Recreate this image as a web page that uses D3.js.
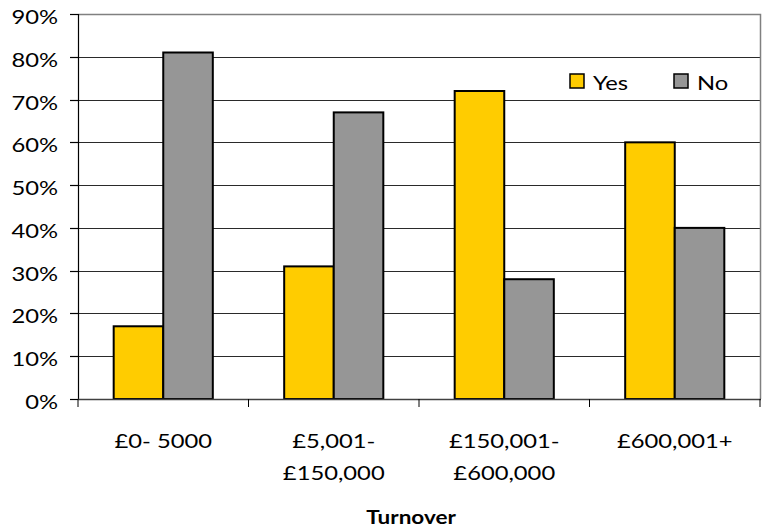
<!DOCTYPE html>
<html>
<head>
<meta charset="utf-8">
<script src="https://cdn.jsdelivr.net/npm/d3@7"></script>
<style>
  body { margin: 0; background: #fff; }
  text { font-family: Lato, "Open Sans", sans-serif; fill: #000; }
</style>
</head>
<body>
<div id="chart"></div>
<script>
var categories = [['£0- 5000'], ['£5,001-', '£150,000'], ['£150,001-', '£600,000'], ['£600,001+']];
var seriesNames = ['Yes', 'No'];
var yesValues = [0.17, 0.31, 0.72, 0.60];
var noValues = [0.81, 0.67, 0.28, 0.40];
var yTicks = [0, 0.1, 0.2, 0.3, 0.4, 0.5, 0.6, 0.7, 0.8, 0.9];
var colors = { Yes: '#FFCC00', No: '#969696' };

var W = 762, H = 530;
var plotLeft = 78, plotRight = 760, plotTop = 14, plotBottom = 399;
var sx = 1.25; // picture is stretched horizontally

var svg = d3.select('#chart').append('svg').attr('width', W).attr('height', H);

var xScale = d3.scaleBand().domain(d3.range(categories.length)).range([plotLeft, plotRight]);
var inner = d3.scaleBand().domain(seriesNames).range([0, xScale.bandwidth()]).paddingOuter(0.72);
var yScale = d3.scaleLinear().domain([0, 0.9]).range([plotBottom, plotTop]);

// gridlines
svg.append('g').selectAll('line').data(yTicks.slice(1, -1)).enter().append('line')
  .attr('x1', plotLeft).attr('x2', plotRight)
  .attr('y1', function (d) { return Math.round(yScale(d)) + 0.5; })
  .attr('y2', function (d) { return Math.round(yScale(d)) + 0.5; })
  .style('stroke', '#2a2a2a').style('stroke-width', 1.2);

// top and right border
svg.append('path')
  .attr('d', 'M' + plotLeft + ',' + (plotTop + 0.5) + 'H' + (plotRight + 0.5) + 'V' + plotBottom)
  .style('fill', 'none').style('stroke', '#808080').style('stroke-width', 1.5);

// bars
var data = [];
categories.forEach(function (c, i) {
  data.push({ i: i, s: 'Yes', v: yesValues[i] });
  data.push({ i: i, s: 'No', v: noValues[i] });
});
svg.append('g').selectAll('rect').data(data).enter().append('rect')
  .attr('x', function (d) { return xScale(d.i) + inner(d.s); })
  .attr('y', function (d) { return yScale(d.v); })
  .attr('width', inner.bandwidth())
  .attr('height', function (d) { return plotBottom - yScale(d.v); })
  .style('fill', function (d) { return colors[d.s]; })
  .style('stroke', '#000').style('stroke-width', 2);

// y axis
svg.append('line').attr('x1', plotLeft + 0.5).attr('x2', plotLeft + 0.5).attr('y1', plotTop).attr('y2', plotBottom)
  .style('stroke', '#000').style('stroke-width', 1.2);
var yt = svg.append('g').selectAll('g').data(yTicks).enter().append('g');
yt.append('line').attr('x1', plotLeft - 8).attr('x2', plotLeft)
  .attr('y1', function (d) { return Math.round(yScale(d)) + 0.5; })
  .attr('y2', function (d) { return Math.round(yScale(d)) + 0.5; })
  .style('stroke', '#000').style('stroke-width', 1.2);
yt.append('text')
  .attr('transform', function (d) { return 'translate(58,' + (yScale(d) + 10) + ') scale(' + sx + ',1)'; })
  .attr('text-anchor', 'end').style('font-size', '19px')
  .text(function (d) { return d3.format('.0%')(d); });

// x axis
svg.append('line').attr('x1', plotLeft).attr('x2', plotRight + 1).attr('y1', plotBottom + 0.5).attr('y2', plotBottom + 0.5)
  .style('stroke', '#404040').style('stroke-width', 1.5);
svg.append('g').selectAll('line').data(d3.range(categories.length + 1)).enter().append('line')
  .attr('x1', function (d) { return d < categories.length ? xScale(d) : plotRight; })
  .attr('x2', function (d) { return d < categories.length ? xScale(d) : plotRight; })
  .attr('y1', plotBottom).attr('y2', plotBottom + 8)
  .style('stroke', '#000').style('stroke-width', 1);

var xl = svg.append('g').selectAll('g').data(categories).enter().append('g')
  .attr('transform', function (d, i) { return 'translate(' + (xScale(i) + xScale.bandwidth() / 2) + ',448) scale(' + sx + ',1)'; });
xl.selectAll('text').data(function (d) { return d; }).enter().append('text')
  .attr('y', function (d, j) { return j * 32; })
  .attr('text-anchor', 'middle').style('font-size', '19px')
  .text(function (d) { return d; });

svg.append('text')
  .attr('transform', 'translate(411,524) scale(' + sx + ',1)')
  .attr('text-anchor', 'middle').style('font-size', '18px').style('font-weight', 'bold')
  .text('Turnover');

// legend
var legendX = [570, 674];
var lg = svg.append('g').selectAll('g').data(seriesNames).enter().append('g')
  .attr('transform', function (d, i) { return 'translate(' + legendX[i] + ',74)'; });
lg.append('rect').attr('width', 14).attr('height', 14)
  .style('fill', function (d) { return colors[d]; })
  .style('stroke', '#000').style('stroke-width', 1.5);
lg.append('text')
  .attr('transform', 'translate(23,16) scale(' + sx + ',1)')
  .style('font-size', '19px')
  .text(function (d) { return d; });
</script>
</body>
</html>
